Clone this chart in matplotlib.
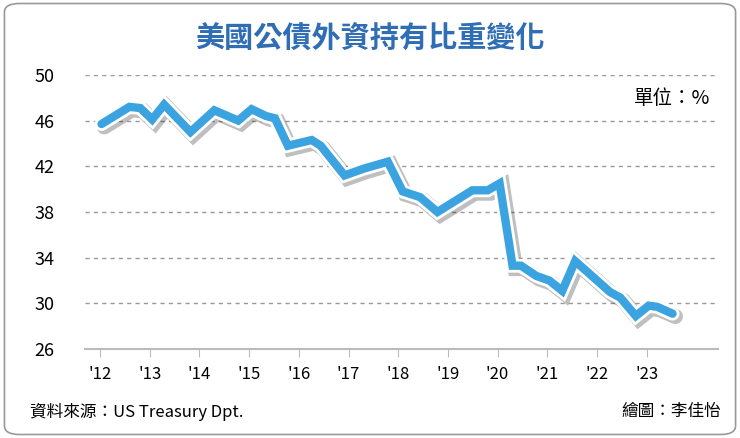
import matplotlib.pyplot as plt
import matplotlib.patheffects as pe
from matplotlib.patches import FancyBboxPatch
import numpy as np

plt.rcParams['font.family'] = ['Noto Sans CJK TC', 'DejaVu Sans']

years = [2012.03, 2012.59, 2012.81, 2013.05, 2013.29, 2013.82, 2014.30, 2014.78,
         2015.05, 2015.34, 2015.52, 2015.78, 2016.26, 2016.44, 2016.92, 2017.31,
         2017.79, 2018.09, 2018.44, 2018.79, 2019.49, 2019.80, 2020.04, 2020.30,
         2020.47, 2020.78, 2021.04, 2021.30, 2021.56, 2022.26, 2022.47, 2022.78,
         2023.04, 2023.21, 2023.52]
share = [45.7, 47.2, 47.1, 46.1, 47.4, 45.0, 46.9, 46.0,
         47.0, 46.4, 46.2, 43.8, 44.3, 43.8, 41.2, 41.8,
         42.4, 39.8, 39.3, 38.0, 39.9, 39.9, 40.5, 33.3,
         33.3, 32.4, 32.0, 31.1, 33.7, 31.0, 30.5, 28.9,
         29.8, 29.7, 29.1]
xticks = list(range(2012, 2024))
xlabels = ["'%02d" % (y - 2000) for y in xticks]
yticks = [26, 30, 34, 38, 42, 46, 50]

fig = plt.figure(figsize=(7.4, 4.38), dpi=100)
fig.patches.append(FancyBboxPatch((0.006, 0.008), 0.988, 0.984,
                                  boxstyle='round,pad=0,rounding_size=0.02',
                                  transform=fig.transFigure, fc='white',
                                  ec='#999999', lw=1.2, zorder=-10))

ax = fig.add_axes([0.115, 0.203, 0.855, 0.626])
ax.set_zorder(5)
ax.plot(years, share, color='#3aa3e0', lw=6, solid_joinstyle='miter',
        solid_capstyle='round', zorder=3,
        path_effects=[pe.SimpleLineShadow(offset=(2, -2), alpha=0.25, shadow_color='k',
                                          linewidth=11),
                      pe.Stroke(linewidth=10, foreground='white'),
                      pe.Normal()])

ax.set_xlim(2011.7, 2024.43)
ax.set_ylim(26, 50)
ax.set_yticks(yticks)
ax.set_xticks(xticks)
ax.set_xticklabels(xlabels)
for y in yticks[1:]:
    ax.axhline(y, color='#999999', lw=1, ls=(0, (3, 3)), zorder=1)
for s in ['top', 'right', 'left']:
    ax.spines[s].set_visible(False)
ax.spines['bottom'].set_color('#bbbbbb')
ax.spines['bottom'].set_linewidth(1.5)
ax.tick_params(axis='y', length=0, labelsize=13, pad=22)
ax.tick_params(axis='x', length=6, color='#bbbbbb', labelsize=12, pad=6)
ax.patch.set_alpha(0)

fig.text(0.5, 0.915, '美國公債外資持有比重變化', ha='center', va='center',
         fontsize=21, fontweight='bold', color='#2f6db5')
fig.text(0.96, 0.775, '單位：%', ha='right', va='center', fontsize=14)
fig.text(0.04, 0.06, '資料來源：US Treasury Dpt.', ha='left', va='center', fontsize=12)
fig.text(0.975, 0.06, '繪圖：李佳怡', ha='right', va='center', fontsize=12)

fig.savefig('out.png', dpi=100)
